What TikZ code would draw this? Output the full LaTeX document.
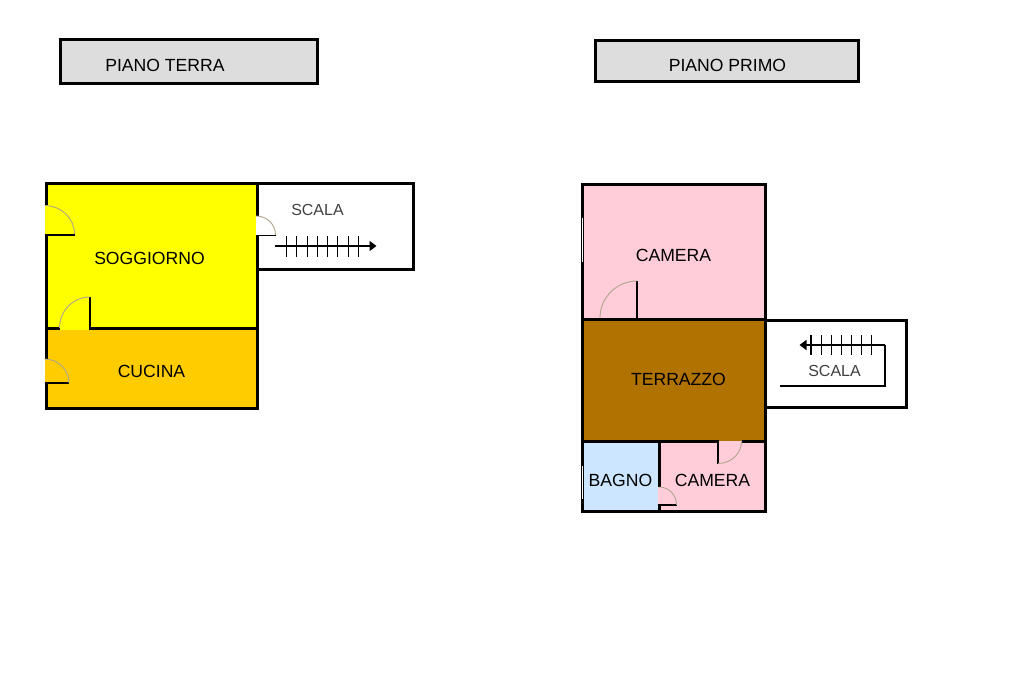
\documentclass[tikz,border=0pt]{standalone}
\usepackage{fontspec}
\setmainfont{Liberation Sans}
\usetikzlibrary{arrows.meta}
\definecolor{soggcol}{HTML}{FFFF00}
\definecolor{cucinacol}{HTML}{FFCC00}
\definecolor{camcol}{HTML}{FFCCD9}
\definecolor{terrcol}{HTML}{B07200}
\definecolor{bagnocol}{HTML}{CCE6FF}
\definecolor{titlecol}{HTML}{DDDDDD}
\definecolor{swingcol}{HTML}{AFA58C}
\begin{document}
\begin{tikzpicture}[
		x=1pt,y=-1pt,
		wall/.style={line width=3pt,miter limit=10},
		leaf/.style={line width=2pt},
		thinleaf/.style={line width=1.1pt},
		swing/.style={line width=0.9pt,swingcol},
		tread/.style={line width=1.1pt},
		run/.style={line width=1.6pt},
		room/.style={font=\fontsize{17.6}{20}\selectfont,inner sep=0pt},
		stairlabel/.style={font=\fontsize{16}{18}\selectfont,text=black!75,inner sep=0pt},
		title/.style={draw,line width=2.8pt,fill=titlecol,inner sep=0pt,anchor=north west}
		]
		\useasboundingbox (0,0) rectangle (1024,682);
		% titles
		\node[title,minimum width=257pt,minimum height=44pt](titleterra) at (59,38.5){};
		\node[title,minimum width=263pt,minimum height=41pt](titleprimo) at (594,39.5){};
		\node[room](labelterra) at (165,65.5){PIANO TERRA};
		\node[room](labelprimo) at (727.5,65.5){PIANO PRIMO};
		% ground floor
		\fill[soggcol] (46,183.5) rectangle (257.5,328.5);
		\fill[cucinacol] (46,328.5) rectangle (257.5,408);
		\draw[wall] (46,183.5) rectangle (257.5,408);
		\draw[wall] (46,328.5) -- (257.5,328.5);
		\draw[wall] (257.5,183.5) -- (413.5,183.5) -- (413.5,269.5) -- (257.5,269.5);
		\fill[soggcol] (44.5,205.5) rectangle (48,234);
		\fill[white] (255.8,215.5) rectangle (259.2,235);
		\fill[soggcol] (59.5,326.5) rectangle (89,330.2);
		\fill[cucinacol] (44.5,359) rectangle (48,382.5);
		\draw[leaf] (44.5,234.5) -- (75,234.5);
		\draw[thinleaf] (256,235.3) -- (275.5,235.3);
		\draw[leaf] (90,297) -- (90,329);
		\draw[thinleaf] (44.5,383) -- (69,383);
		\draw[swing] (44.5,205.5) .. controls (61,205.5) and (74.5,218) .. (74.5,234);
		\draw[swing] (256,216) .. controls (267,216) and (275.5,224.5) .. (275.5,235);
		\draw[swing] (59.5,328) .. controls (59.5,311) and (73,297) .. (90,297);
		\draw[swing] (44.5,359) .. controls (58,359) and (69,369.5) .. (69,383);
		\node[room](soggiorno) at (149.5,258.5){SOGGIORNO};
		\node[room](cucina) at (151.5,371.5){CUCINA};
		\node[stairlabel](scalaterra) at (317.5,210){SCALA};
		\draw[run,-{Triangle[length=7pt,width=10pt]}] (275,246) -- (376.5,246);
		\path[draw,tread]
		(286.7,235.7) -- (286.7,256.7)
		(296.9,235.7) -- (296.9,256.7)
		(307.2,235.7) -- (307.2,256.7)
		(317.3,235.7) -- (317.3,256.7)
		(327.6,235.7) -- (327.6,256.7)
		(337.9,235.7) -- (337.9,256.7)
		(348.2,235.7) -- (348.2,256.7)
		(358.3,235.7) -- (358.3,256.7)
		;
		% first floor
		\fill[camcol] (582.5,184.5) rectangle (765.5,319.5);
		\fill[terrcol] (582.5,319.5) rectangle (765.5,441.5);
		\fill[bagnocol] (582.5,441.5) rectangle (659.5,511);
		\fill[camcol] (659.5,441.5) rectangle (765.5,511);
		\draw[wall] (582.5,184.5) rectangle (765.5,511);
		\draw[wall] (582.5,319.5) -- (765.5,319.5);
		\draw[wall] (582.5,441.5) -- (765.5,441.5);
		\draw[wall] (659.5,441.5) -- (659.5,511);
		\draw[wall] (765.5,320.5) -- (906,320.5) -- (906,407) -- (765.5,407);
		\draw[white,line width=1pt] (582.1,217.7) -- (582.1,262.3);
		\draw[white,line width=1pt] (582.1,466) -- (582.1,499);
		\fill[camcol] (718.5,440) rectangle (741.5,443.5);
		\fill[terrcol] (718.5,439.5) rectangle (741.5,441.2);
		\fill[camcol] (657.8,487) rectangle (661.3,504.5);
		\draw[thinleaf] (637,281) -- (637,319);
		\draw[thinleaf] (718,441) -- (718,463.5);
		\draw[thinleaf] (657.5,505) -- (676.5,505);
		\draw[swing] (600,318) .. controls (600,297.5) and (616.5,281) .. (637,281);
		\draw[swing] (718,463.5) .. controls (731,463.5) and (741.5,453.5) .. (741.5,441.5);
		\draw[swing] (659,487) .. controls (669,487) and (676.5,495) .. (676.5,505);
		\node[room](camerasu) at (673.5,255.5){CAMERA};
		\node[room](terrazzo) at (678.5,379.5){TERRAZZO};
		\node[room](bagno) at (620.5,480.5){BAGNO};
		\node[room](cameragiu) at (712.5,480.5){CAMERA};
		\node[stairlabel](scalaprimo) at (834.5,371){SCALA};
		\draw[run,-{Triangle[length=7pt,width=10pt]}] (885,345) -- (799.5,345);
		\draw[run] (885,345) -- (885,385.7) -- (779.5,385.7);
		\path[draw,tread]
		(811,335) -- (811,355)
		(821.3,335) -- (821.3,355)
		(831.6,335) -- (831.6,355)
		(841.7,335) -- (841.7,355)
		(851.7,335) -- (851.7,355)
		(861.7,335) -- (861.7,355)
		(871.7,335) -- (871.7,355)
		;
\end{tikzpicture}
\end{document}
